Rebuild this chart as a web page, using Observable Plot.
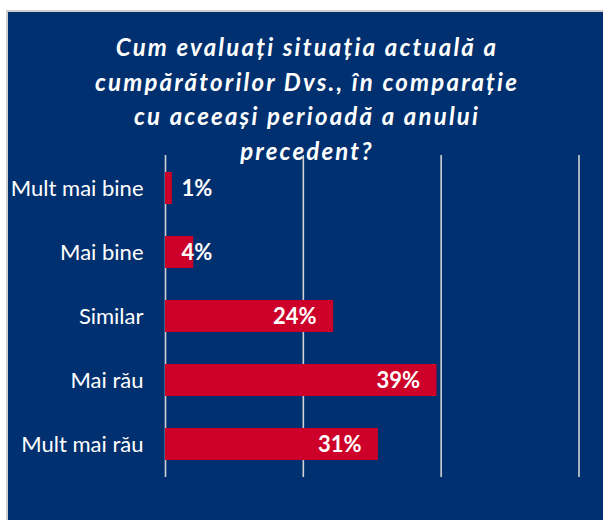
<!DOCTYPE html>
<html>
<head>
<meta charset="utf-8">
<script src="https://cdn.jsdelivr.net/npm/d3@7"></script>
<script src="https://cdn.jsdelivr.net/npm/@observablehq/plot@0.6"></script>
<style>
  html, body { margin: 0; padding: 0; background: #ffffff; }
  #page { position: relative; width: 603px; height: 520px; overflow: hidden; background: #ffffff; }
  #panel { position: absolute; left: 6px; top: 10px; width: 597px; height: 510px;
           border-left: 2px solid #cfcfcf; border-top: 2px solid #cfcfcf; background: #00306f; }
  #title { position: absolute; left: 8px; width: 598px; top: 30px; text-align: center;
           font-family: Lato, "Open Sans", sans-serif; font-weight: bold; font-style: italic;
           font-size: 24px; line-height: 34.5px; letter-spacing: 2.2px; color: #ffffff; z-index: 2; }
  #chart { position: absolute; left: 8px; top: 12px; }
</style>
</head>
<body>
<div id="page">
  <div id="panel"></div>
  <div id="chart"></div>
  <div id="title"></div>
</div>
<script>
const titleLines = [
  "Cum evaluați situația actuală a",
  "cumpărătorilor Dvs., în comparație",
  "cu aceeași perioadă a anului",
  "precedent?"
];
const categories = ["Mult mai bine", "Mai bine", "Similar", "Mai rău", "Mult mai rău"];
const values = [1.0, 4.1, 24.4, 39.4, 30.9];
const xTicks = [0, 20, 40, 60];

document.getElementById("title").innerHTML = titleLines.join("<br>");

const data = categories.map((c, i) => ({category: c, value: values[i], label: Math.round(values[i]) + "%"}));
const bigBars = data.filter(d => d.value >= 10);
const smallBars = data.filter(d => d.value < 10);

const chart = Plot.plot({
  width: 595,
  height: 508,
  marginLeft: 157,
  marginRight: 24.5,
  marginTop: 143,
  marginBottom: 43,
  style: {background: "transparent", fontFamily: "Lato, 'Open Sans', sans-serif", color: "#ffffff"},
  x: {domain: [0, 60], axis: null},
  y: {domain: categories, paddingInner: 0.5, paddingOuter: 0.25, label: null,
      tickSize: 0, tickPadding: 22, fontSize: 22},
  marks: [
    Plot.ruleX(xTicks, {stroke: "#d2d2d2", strokeWidth: 1.6}),
    Plot.barX(data, {x: "value", y: "category", fill: "#cc0029"}),
    Plot.text(bigBars, {x: "value", y: "category", text: "label", textAnchor: "end", dx: -17,
      fill: "#ffffff", fontWeight: "bold", fontSize: 22}),
    Plot.text(smallBars, {x: () => 0, y: "category", text: "label", textAnchor: "start", dx: 16,
      fill: "#ffffff", fontWeight: "bold", fontSize: 22})
  ]
});
chart.querySelectorAll("g[aria-label='y-axis tick label']").forEach(n => n.setAttribute("font-size", "22"));
document.getElementById("chart").appendChild(chart);
</script>
</body>
</html>
